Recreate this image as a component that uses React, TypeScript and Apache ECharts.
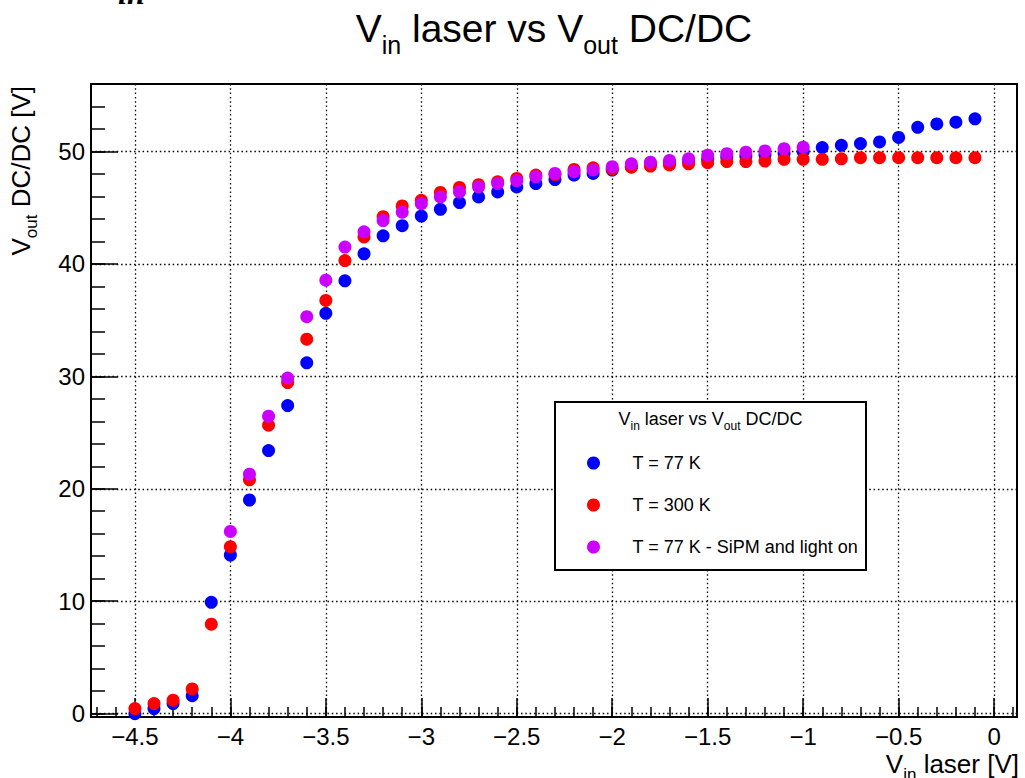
import React, { useEffect, useRef } from "react";
import * as echarts from "echarts";

const FONT = '"Liberation Sans", Arial, Helvetica, sans-serif';

// ---- data ----
const vinAll = [
  -4.5, -4.4, -4.3, -4.2, -4.1, -4.0, -3.9, -3.8, -3.7, -3.6, -3.5, -3.4, -3.3, -3.2, -3.1,
  -3.0, -2.9, -2.8, -2.7, -2.6, -2.5, -2.4, -2.3, -2.2, -2.1, -2.0, -1.9, -1.8, -1.7, -1.6,
  -1.5, -1.4, -1.3, -1.2, -1.1, -1.0, -0.9, -0.8, -0.7, -0.6, -0.5, -0.4, -0.3, -0.2, -0.1,
];
const voutT77 = [
  0.0, 0.45, 0.9, 1.6, 9.9, 14.1, 19.0, 23.4, 27.4, 31.2, 35.6, 38.5, 40.9, 42.5, 43.4,
  44.25, 44.85, 45.45, 45.95, 46.4, 46.85, 47.15, 47.5, 47.9, 48.05, 48.35, 48.65, 48.9, 49.0, 49.15,
  49.3, 49.5, 49.6, 49.7, 49.85, 50.0, 50.35, 50.55, 50.7, 50.85, 51.25, 52.15, 52.45, 52.6, 52.9,
];
const voutT300 = [
  0.45, 0.9, 1.2, 2.2, 7.95, 14.85, 20.8, 25.65, 29.45, 33.3, 36.75, 40.3, 42.4, 44.2, 45.15,
  45.65, 46.35, 46.8, 47.05, 47.3, 47.6, 47.9, 47.95, 48.4, 48.55, 48.45, 48.6, 48.7, 48.8, 48.9,
  49.0, 49.1, 49.1, 49.15, 49.3, 49.3, 49.3, 49.35, 49.45, 49.45, 49.45, 49.45, 49.45, 49.45, 49.45,
];
const vinSipm = [
  -4.0, -3.9, -3.8, -3.7, -3.6, -3.5, -3.4, -3.3, -3.2, -3.1, -3.0, -2.9, -2.8, -2.7, -2.6, -2.5,
  -2.4, -2.3, -2.2, -2.1, -2.0, -1.9, -1.8, -1.7, -1.6, -1.5, -1.4, -1.3, -1.2, -1.1, -1.0,
];
const voutSipm = [
  16.2, 21.3, 26.45, 29.85, 35.3, 38.55, 41.5, 42.85, 43.85, 44.6, 45.35, 45.95, 46.4, 46.85, 47.15, 47.4,
  47.75, 48.05, 48.2, 48.35, 48.65, 48.9, 49.05, 49.2, 49.35, 49.67, 49.8, 49.93, 50.05, 50.25, 50.38,
];
const seriesNames = ["T = 77 K", "T = 300 K", "T = 77 K - SiPM and light on"];
const seriesColors = ["#0000ff", "#ff0000", "#cc00ff"];

const xTickValues = [-4.5, -4, -3.5, -3, -2.5, -2, -1.5, -1, -0.5, 0];
const xTickLabels = ["\u22124.5", "\u22124", "\u22123.5", "\u22123", "\u22122.5", "\u22122", "\u22121.5", "\u22121", "\u22120.5", "0"];
const yTickValues = [0, 10, 20, 30, 40, 50];
const yTickLabels = ["0", "10", "20", "30", "40", "50"];

const xMinor: number[] = [];
for (let i = -47; i <= 1; i++) xMinor.push(i / 10);
const yMinor: number[] = [];
for (let v = 0; v <= 54; v += 2) yMinor.push(v);

const X_MIN = -4.73;
const X_MAX = 0.12;
const Y_MIN = -0.3;
const Y_MAX = 56.0;

function mkRich(F: number, f: number) {
  const d = 2 * (0.3 * F + 0.3465 * (F - f));
  const lh = F * 1.2;
  return {
    m: { fontSize: F, fontFamily: FONT, fill: "#000", lineHeight: lh },
    s: { fontSize: f, fontFamily: FONT, fill: "#000", lineHeight: lh, padding: [d, 0, 0, 0] },
  };
}

function lab(values: number[], labels: string[]) {
  return (v: number) => {
    const i = values.findIndex((t) => Math.abs(t - v) < 1e-6);
    return i >= 0 ? labels[i] : "";
  };
}

export default function App() {
  const ref = useRef<HTMLDivElement>(null);
  useEffect(() => {
    if (!ref.current) return;
    const chart = echarts.init(ref.current, undefined, { renderer: "svg" });
    const gridLine = { show: true, lineStyle: { color: "#000", width: 1.3, type: [1.5, 2.8] as any } };
    const noLine = { show: false, onZero: false };
    const mkData = (xs: number[], ys: number[]) => xs.map((x, i) => [x, ys[i]]);
    const option: any = {
      animation: false,
      backgroundColor: "#fff",
      grid: {
        left: 91, top: 84, right: 8, bottom: 61,
        show: true, borderColor: "#000", borderWidth: 2, backgroundColor: "transparent",
      },
      xAxis: [
        {
          type: "value", min: X_MIN, max: X_MAX, position: "bottom",
          axisLine: noLine,
          axisTick: { show: true, inside: true, length: 19, customValues: xTickValues, lineStyle: { color: "#000", width: 1.5 } },
          axisLabel: {
            show: true, customValues: xTickValues, margin: 7, formatter: lab(xTickValues, xTickLabels),
            fontSize: 24, fontFamily: FONT, color: "#000",
          },
          splitLine: gridLine,
        },
        {
          type: "value", min: X_MIN, max: X_MAX, position: "bottom",
          axisLine: noLine,
          axisTick: { show: true, inside: true, length: 10, customValues: xMinor, lineStyle: { color: "#000", width: 1.5 } },
          axisLabel: { show: false },
          splitLine: { show: false },
        },
      ],
      yAxis: [
        {
          type: "value", min: Y_MIN, max: Y_MAX, position: "left",
          axisLine: noLine,
          axisTick: { show: true, inside: true, length: 27, customValues: yTickValues, lineStyle: { color: "#000", width: 1.5 } },
          axisLabel: {
            show: true, customValues: yTickValues, margin: 6, formatter: lab(yTickValues, yTickLabels),
            fontSize: 24, fontFamily: FONT, color: "#000",
          },
          splitLine: gridLine,
        },
        {
          type: "value", min: Y_MIN, max: Y_MAX, position: "left",
          axisLine: noLine,
          axisTick: { show: true, inside: true, length: 14, customValues: yMinor, lineStyle: { color: "#000", width: 1.5 } },
          axisLabel: { show: false },
          splitLine: { show: false },
        },
      ],
      legend: {
        show: true, orient: "vertical", left: 587, top: 454, padding: 0,
        itemWidth: 68, itemHeight: 13, itemGap: 24, icon: "circle", selectedMode: false,
        data: seriesNames,
        textStyle: { fontSize: 18, fontFamily: FONT, color: "#000" },
        z: 6,
      },
      series: [
        { name: seriesNames[0], data: mkData(vinAll, voutT77) },
        { name: seriesNames[1], data: mkData(vinAll, voutT300) },
        { name: seriesNames[2], data: mkData(vinSipm, voutSipm) },
      ].map((s, i) => ({
        ...s,
        type: "scatter",
        xAxisIndex: 0,
        yAxisIndex: 0,
        symbol: "circle",
        symbolSize: 13,
        itemStyle: { color: seriesColors[i], opacity: 1 },
        emphasis: { disabled: true },
        z: 2 + i * 0.01,
      })),
      graphic: [
        {
          type: "text", x: 118, y: -6.8, z: 10,
          style: { text: "in", font: 'italic bold 32px "Liberation Serif", serif', fill: "#000", align: "left", verticalAlign: "middle" },
        },
        {
          type: "text", x: 554, y: 28.2, z: 10,
          style: { text: "{m|V}{s|in}{m| laser vs V}{s|out}{m| DC/DC}", rich: mkRich(39, 25), align: "center", verticalAlign: "middle", fill: "#000" },
        },
        {
          type: "text", x: 1019, y: 764, z: 10,
          style: { text: "{m|V}{s|in}{m| laser [V]}", rich: mkRich(26, 17), align: "right", verticalAlign: "middle", fill: "#000" },
        },
        {
          type: "text", x: 21, y: 86, z: 10, rotation: Math.PI / 2,
          style: { text: "{m|V}{s|out}{m| DC/DC [V]}", rich: mkRich(26, 17), align: "right", verticalAlign: "middle", fill: "#000" },
        },
        {
          type: "rect", z: 5,
          shape: { x: 555, y: 402, width: 311, height: 168 },
          style: { fill: "#fff", stroke: "#000", lineWidth: 2 },
        },
        {
          type: "text", x: 710.5, y: 418.8, z: 7,
          style: { text: "{m|V}{s|in}{m| laser vs V}{s|out}{m| DC/DC}", rich: mkRich(18, 12), align: "center", verticalAlign: "middle", fill: "#000" },
        },
      ],
    };
    chart.setOption(option);
    return () => chart.dispose();
  }, []);
  return <div ref={ref} style={{ position: "absolute", left: 0, top: 0, width: 1025, height: 778 }} />;
}
